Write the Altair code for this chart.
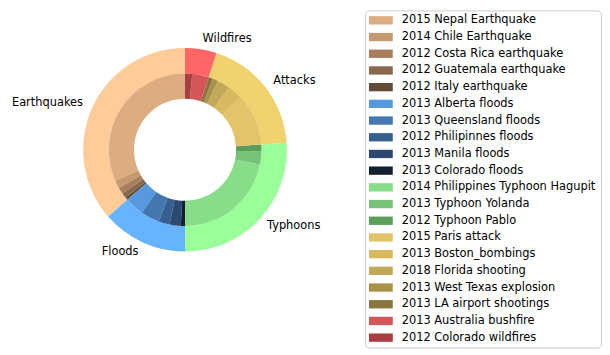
import altair as alt
import pandas as pd

categories = ["Earthquakes", "Floods", "Typhoons", "Attacks", "Wildfires"]
category_values = [131, 49, 94, 68, 18]
category_colors = ["#ffcc99", "#66b3ff", "#99ff99", "#f0d36e", "#ff6666"]

events = [
    "2015 Nepal Earthquake", "2014 Chile Earthquake", "2012 Costa Rica earthquake",
    "2012 Guatemala earthquake", "2012 Italy earthquake",
    "2013 Alberta floods", "2013 Queensland floods", "2012 Philipinnes floods",
    "2013 Manila floods", "2013 Colorado floods",
    "2014 Philippines Typhoon Hagupit", "2013 Typhoon Yolanda", "2012 Typhoon Pablo",
    "2015 Paris attack", "2013 Boston_bombings", "2018 Florida shooting",
    "2013 West Texas explosion", "2013 LA airport shootings",
    "2013 Australia bushfire", "2012 Colorado wildfires",
]
event_values = [
    114, 6, 5, 4, 2,
    14.6, 14.3, 8.4, 8.5, 3.2,
    78.9, 9.8, 5.3,
    39.4, 11.6, 9.4, 4.2, 3.4,
    12.5, 5.5,
]
event_colors = [
    "#dcad80", "#c69a70", "#a87f5e", "#876a4e", "#624c38",
    "#5699dc", "#4477b0", "#365f92", "#2c4a70", "#13202e",
    "#88dd88", "#76c276", "#5a9e5a",
    "#e3c46a", "#d8b95e", "#c2a95a", "#a8924a", "#8a7540",
    "#d45656", "#a84040",
]

outer = pd.DataFrame({"cat": categories, "value": category_values,
                      "col": category_colors, "idx": list(range(len(categories)))})
inner = pd.DataFrame({"event": events, "value": event_values,
                      "col": event_colors, "idx": list(range(len(events)))})

FONT = "DejaVu Sans"
theta = alt.Theta("value:Q", stack=True)
order = alt.Order("idx:Q", sort="descending")

outer_arc = alt.Chart(outer).mark_arc(radius=102.7, radius2=77).encode(
    theta=theta, order=order, color=alt.Color("col:N", scale=None)
)
inner_arc = alt.Chart(inner).mark_arc(radius=77, radius2=51.5).encode(
    theta=theta, order=order, color=alt.Color("col:N", scale=None)
)

label_base = (
    alt.Chart(outer)
    .transform_window(cum="sum(value)", sort=[alt.SortField("idx")])
    .transform_joinaggregate(total="sum(value)")
    .transform_calculate(mid="(datum.cum - datum.value / 2) / datum.total")
)
labels_left = label_base.mark_text(
    radius=113, align="right", baseline="middle", fontSize=11.5, font=FONT, color="black"
).encode(
    theta=theta, order=order,
    text=alt.condition("datum.mid < 0.5", alt.Text("cat:N"), alt.value("")),
)
labels_right = label_base.mark_text(
    radius=113, align="left", baseline="middle", fontSize=11.5, font=FONT, color="black"
).encode(
    theta=theta, order=order,
    text=alt.condition("datum.mid >= 0.5", alt.Text("cat:N"), alt.value("")),
)

pie = alt.layer(outer_arc, inner_arc, labels_left, labels_right).properties(
    width=355, height=281,
    view=alt.ViewBackground(stroke="transparent"),
)

legend_df = pd.DataFrame({"event": events, "col": event_colors})
ypos = alt.Y("event:N", sort=events, scale=alt.Scale(type="point", padding=0.595), axis=None)
swatches = alt.Chart(legend_df).mark_point(
    shape="M-1,-0.35H1V0.35H-1Z", size=576, filled=True, opacity=1, strokeWidth=0
).encode(x=alt.value(16), y=ypos, color=alt.Color("col:N", scale=None))
legend_text = alt.Chart(legend_df).mark_text(
    align="left", baseline="middle", fontSize=11.5, font=FONT, color="black"
).encode(x=alt.value(37), y=ypos, text="event:N")

legend_panel = alt.layer(swatches, legend_text).properties(
    width=238, height=340,
    view=alt.ViewBackground(stroke="#cccccc", strokeWidth=1, cornerRadius=4, fill="white"),
)

chart = alt.hconcat(pie, legend_panel, spacing=2).properties(
    padding={"left": 0, "top": 0, "right": 0, "bottom": 0}
).configure_view(stroke="transparent")

chart.save("out.html", embed_options={"renderer": "svg", "actions": False})
